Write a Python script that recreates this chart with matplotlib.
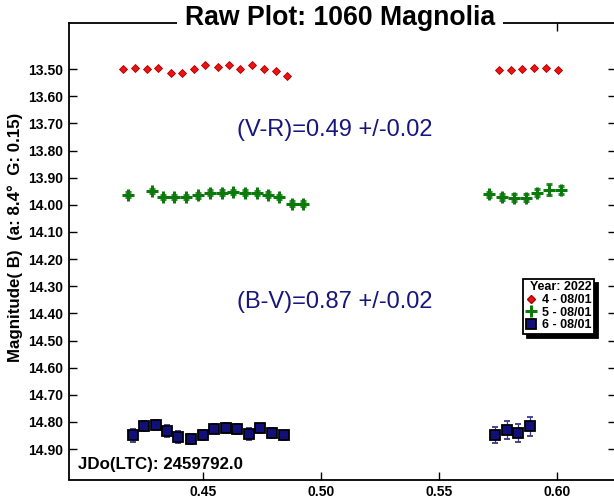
import matplotlib
matplotlib.use("Agg")
import matplotlib.pyplot as plt
from matplotlib.lines import Line2D

plt.rcParams["font.family"] = ["Liberation Sans", "DejaVu Sans"]

# ── data ────────────────────────────────────────────────────────────────────
red_x = [0.4161, 0.4211, 0.4260, 0.4309, 0.4363, 0.4409, 0.4460, 0.4509,
         0.4561, 0.4611, 0.4657, 0.4707, 0.4758, 0.4809, 0.4857,
         0.5754, 0.5806, 0.5854, 0.5902, 0.5953, 0.6004]
red_y = [13.499, 13.496, 13.499, 13.497, 13.515, 13.515, 13.499, 13.485,
         13.492, 13.483, 13.501, 13.486, 13.499, 13.508, 13.526,
         13.504, 13.503, 13.500, 13.495, 13.497, 13.503]
red_err = [0.005] * 21

green_x = [0.4182, 0.4281, 0.4330, 0.4377, 0.4427, 0.4476, 0.4528, 0.4578,
           0.4626, 0.4677, 0.4727, 0.4776, 0.4823, 0.4875, 0.4924,
           0.5714, 0.5769, 0.5819, 0.5868, 0.5918, 0.5967, 0.6018]
green_y = [13.962, 13.950, 13.971, 13.971, 13.971, 13.965, 13.955, 13.955,
           13.953, 13.955, 13.957, 13.962, 13.971, 13.995, 13.995,
           13.961, 13.971, 13.973, 13.973, 13.955, 13.944, 13.946]
green_err = [0.008] * 15 + [0.010, 0.012, 0.012, 0.012, 0.014, 0.020, 0.015]

blue_x = [0.4200, 0.4248, 0.4298, 0.4346, 0.4394, 0.4448, 0.4497, 0.4545,
          0.4595, 0.4644, 0.4695, 0.4742, 0.4793, 0.4843,
          0.5738, 0.5788, 0.5836, 0.5887]
blue_y = [14.849, 14.814, 14.810, 14.835, 14.854, 14.864, 14.848, 14.825,
          14.821, 14.826, 14.844, 14.824, 14.841, 14.849,
          14.848, 14.829, 14.841, 14.816]
blue_err = [0.024, 0.018, 0.018, 0.022, 0.022, 0.019, 0.017, 0.017,
            0.018, 0.020, 0.021, 0.017, 0.018, 0.017,
            0.030, 0.032, 0.033, 0.034]

x_ticks = [0.45, 0.50, 0.55, 0.60]
y_ticks = [13.5 + 0.1 * i for i in range(15)]

NAVY = "#16167e"
C_RED, C_GRN, C_BLU = "#ee1111", "#0a7a0a", "#10107a"

W, H = 614, 500
fig = plt.figure(figsize=(W / 100, H / 100), dpi=100)
ax = fig.add_axes([69 / W, 1 - 479.5 / H, 547 / W, 456.2 / H])

ax.errorbar(red_x, red_y, yerr=red_err, fmt="D", ms=4.5, color=C_RED,
            mec="#aa0000", mew=0.6, ecolor="#880000", elinewidth=0.6,
            capsize=1.5, zorder=3)
ax.errorbar(green_x, green_y, yerr=green_err, fmt="+", ms=8, mew=2.2,
            color=C_GRN, ecolor="#3a8a3a", elinewidth=0.8, capsize=2,
            zorder=3)
ax.errorbar(blue_x, blue_y, yerr=blue_err, fmt="s", ms=7, color=C_BLU,
            mec="black", mew=1.3, ecolor="#3a3a8a", elinewidth=0.9,
            capsize=2.5, zorder=3)

ax.set_xlim(0.393, 0.6252)
ax.set_ylim(15.012, 13.331)
ax.set_xticks(x_ticks)
ax.set_xticklabels([f"{v:.2f}" for v in x_ticks])
ax.set_yticks(y_ticks)
ax.set_yticklabels([f"{v:.2f}" for v in y_ticks])
ax.tick_params(direction="in", length=6, width=1.0, top=True, right=True,
               labelsize=10, pad=4)
for lab in ax.get_xticklabels() + ax.get_yticklabels():
    lab.set_fontweight("bold")
for sp in ax.spines.values():
    sp.set_linewidth(1.3)

fig.text(335 / W, 1 - 130 / H, "(V-R)=0.49 +/-0.02", ha="center",
         va="center", fontsize=17, color=NAVY)
fig.text(335 / W, 1 - 302 / H, "(B-V)=0.87 +/-0.02", ha="center",
         va="center", fontsize=17, color=NAVY)

fig.text(78 / W, 1 - 465 / H, "JDo(LTC): 2459792.0", ha="left",
         va="center", fontsize=12.2, fontweight="bold")
fig.text(15 / W, 1 - 237 / H,
         "Magnitude( B)  (a: 8.4°  G: 0.15)", rotation=90, ha="center",
         va="center", fontsize=12.2, fontweight="bold")
fig.text(340 / W, 1 - 18 / H, "Raw Plot: 1060 Magnolia", ha="center",
         va="center", fontsize=19.2, fontweight="bold",
         bbox=dict(boxstyle="square,pad=0.3", fc="white", ec="none"))

handles = [
    Line2D([], [], ls="none", marker="D", ms=4.5, color=C_RED, mec="#aa0000"),
    Line2D([], [], ls="none", marker="+", ms=8, mew=2.2, color=C_GRN),
    Line2D([], [], ls="none", marker="s", ms=7, color=C_BLU, mec="black",
           mew=1.3),
]
leg = ax.legend(handles, ["4 - 08/01", "5 - 08/01", "6 - 08/01"],
                loc="upper left", bbox_to_anchor=(0.830, 0.44),
                borderaxespad=0, title="Year: 2022", alignment="right",
                fancybox=False, edgecolor="black", framealpha=1,
                shadow=dict(color="black", alpha=1, ox=3, oy=-3),
                handlelength=0.9, handletextpad=0.4, borderpad=0.2,
                labelspacing=0.05, prop=dict(weight="bold", size=9))
leg.get_title().set_fontweight("bold")
leg.get_title().set_fontsize(9)
leg.get_frame().set_linewidth(1.3)

fig.savefig("out.png", dpi=100)
